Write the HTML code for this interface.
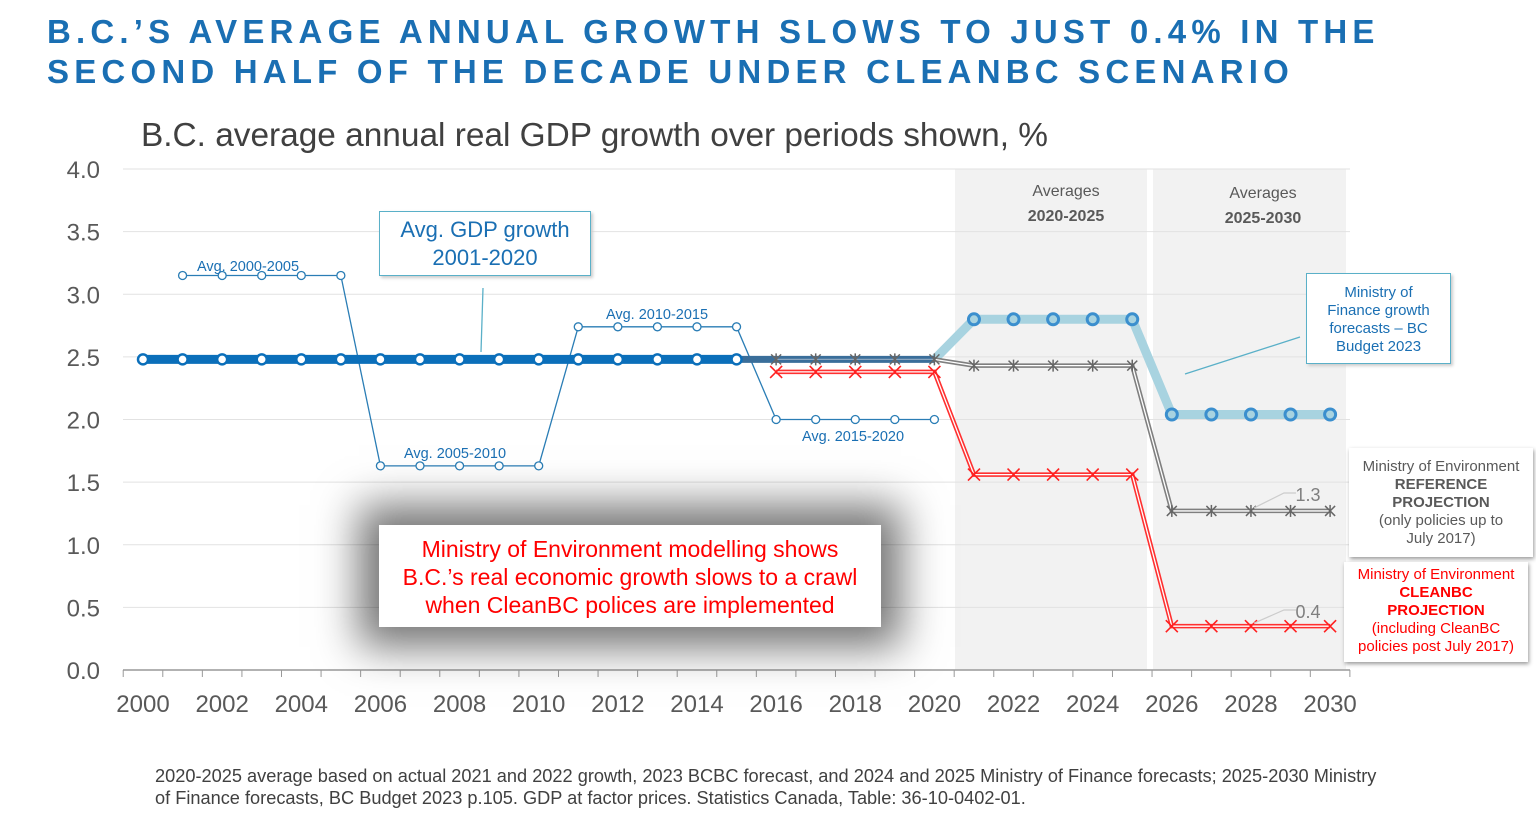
<!DOCTYPE html>
<html><head><meta charset="utf-8"><style>
body{margin:0;background:#fff;width:1536px;height:824px;overflow:hidden;font-family:"Liberation Sans",sans-serif;position:relative}
.t{position:absolute;white-space:nowrap}
.box{position:absolute;background:#fff;text-align:center;box-sizing:border-box}
</style></head><body>
<div class="t" style="left:47px;top:12px;font-size:33px;font-weight:bold;color:#1a6fb3;letter-spacing:5.2px;line-height:40px">B.C.’S AVERAGE ANNUAL GROWTH SLOWS TO JUST 0.4% IN THE<br>SECOND HALF OF THE DECADE UNDER CLEANBC SCENARIO</div>
<div class="t" style="left:141px;top:117px;font-size:33.4px;color:#404040">B.C. average annual real GDP growth over periods shown, %</div>
<svg id="c" width="1536" height="824" style="position:absolute;left:0;top:0"></svg>
<div class="box" style="left:379px;top:211px;width:212px;height:65px;border:1.5px solid #5ab0c8;color:#1a6fb3;font-size:22px;line-height:28px;padding-top:4px;box-shadow:2px 2px 3px #ccc">Avg. GDP growth<br>2001-2020</div>
<div class="box" style="left:1306px;top:273px;width:145px;height:91px;border:1.5px solid #5ab0c8;color:#1a6fb3;font-size:15px;line-height:18px;padding-top:10px;box-shadow:2px 2px 3px #ccc">Ministry of<br>Finance growth<br>forecasts – BC<br>Budget 2023</div>
<div class="box" style="left:1349px;top:448px;width:184px;height:109px;color:#595959;font-size:15px;line-height:18px;padding-top:10px;box-shadow:1px 2px 4px #999">Ministry of Environment<br><b>REFERENCE<br>PROJECTION</b><br>(only policies up to<br>July 2017)</div>
<div class="box" style="left:1344px;top:562px;width:184px;height:100px;color:#ff0000;font-size:15px;line-height:18px;padding-top:4px;box-shadow:1px 2px 4px #999">Ministry of Environment<br><b>CLEANBC<br>PROJECTION</b><br>(including CleanBC<br>policies post July 2017)</div>
<div class="box" style="left:379px;top:525px;width:502px;height:102px;color:#ff0000;font-size:23px;line-height:28px;padding-top:10px;box-shadow:0 0 40px 20px rgba(0,0,0,0.55)">Ministry of Environment modelling shows<br>B.C.’s real economic growth slows to a crawl<br>when CleanBC polices are implemented</div>
<div class="t" style="left:155px;top:765px;font-size:18.2px;color:#404040;line-height:22px">2020-2025 average based on actual 2021 and 2022 growth, 2023 BCBC forecast, and 2024 and 2025 Ministry of Finance forecasts; 2025-2030 Ministry<br>of Finance forecasts, BC Budget 2023 p.105. GDP at factor prices. Statistics Canada, Table: 36-10-0402-01.</div>
<script>
const mainYears=[2000,2001,2002,2003,2004,2005,2006,2007,2008,2009,2010,2011,2012,2013,2014,2015,2016,2017,2018,2019,2020];
const mainVals=[2.48,2.48,2.48,2.48,2.48,2.48,2.48,2.48,2.48,2.48,2.48,2.48,2.48,2.48,2.48,2.48,2.48,2.48,2.48,2.48,2.48];
const avgYears=[2001,2002,2003,2004,2005,2006,2007,2008,2009,2010,2011,2012,2013,2014,2015,2016,2017,2018,2019,2020];
const avgVals=[3.15,3.15,3.15,3.15,3.15,1.63,1.63,1.63,1.63,1.63,2.74,2.74,2.74,2.74,2.74,2.0,2.0,2.0,2.0,2.0];
const projYears=[2016,2017,2018,2019,2020,2021,2022,2023,2024,2025,2026,2027,2028,2029,2030];
const financeVals=[2.48,2.48,2.48,2.48,2.48,2.8,2.8,2.8,2.8,2.8,2.04,2.04,2.04,2.04,2.04];
const referenceVals=[2.48,2.48,2.48,2.48,2.48,2.43,2.43,2.43,2.43,2.43,1.27,1.27,1.27,1.27,1.27];
const cleanbcVals=[2.38,2.38,2.38,2.38,2.38,1.56,1.56,1.56,1.56,1.56,0.35,0.35,0.35,0.35,0.35];
const yTicks=[0,0.5,1,1.5,2,2.5,3,3.5,4];
const xLabels=[2000,2002,2004,2006,2008,2010,2012,2014,2016,2018,2020,2022,2024,2026,2028,2030];
const X=y=>143+(y-2000)*39.57, Y=v=>670-v*125.25;
const s=document.getElementById('c'),NS='http://www.w3.org/2000/svg';
function el(t,a,p){const e=document.createElementNS(NS,t);for(const k in a)e.setAttribute(k,a[k]);(p||s).appendChild(e);return e;}
let r=el('rect',{x:955,y:169,width:192,height:501,fill:'#f2f2f2'});

r=el('rect',{x:1153,y:169,width:193,height:501,fill:'#f2f2f2'});

yTicks.forEach(v=>{
  if(v>0){const g=el('line',{x1:123,x2:1350,y1:Y(v),y2:Y(v),stroke:'#e2e2e2','stroke-width':1});}
  const t=el('text',{x:100,y:Y(v)+9,'text-anchor':'end','font-size':24,fill:'#595959'});t.textContent=v.toFixed(1);
  
});
const ax=el('line',{x1:123,x2:1350,y1:670,y2:670,stroke:'#999','stroke-width':1.5});

for(let y=1999.5;y<=2030.5;y+=1){const tk=el('line',{x1:X(y),x2:X(y),y1:670,y2:677,stroke:'#999'});}
xLabels.forEach(y=>{const t=el('text',{x:X(y),y:712,'text-anchor':'middle','font-size':24,fill:'#595959'});t.textContent=y;});
[['Averages',1066,196,false],['2020-2025',1066,221,true],['Averages',1263,198,false],['2025-2030',1263,223,true]].forEach(a=>{const t=el('text',{x:a[1],y:a[2],'text-anchor':'middle','font-size':16,fill:'#595959','font-weight':a[3]?'bold':'normal'});t.textContent=a[0];});
function pts(xs,vs){return xs.map((x,i)=>X(x)+','+Y(vs[i])).join(' ');}
let p=el('polyline',{points:pts(avgYears,avgVals),fill:'none',stroke:'#2a7db5','stroke-width':1.3});

p=el('polyline',{points:pts(projYears.slice(4),financeVals.slice(4)),fill:'none',stroke:'#a8d3e0','stroke-width':9,'stroke-linejoin':'round'});

const rp=pts(projYears,referenceVals);
p=el('polyline',{points:rp,fill:'none',stroke:'#7f7f7f','stroke-width':4.5});
el('polyline',{points:rp,fill:'none',stroke:'#fff','stroke-width':1.3});
const cp=pts(projYears,cleanbcVals);
p=el('polyline',{points:cp,fill:'none',stroke:'#ff3030','stroke-width':4.5});
el('polyline',{points:cp,fill:'none',stroke:'#fff','stroke-width':1.3});
p=el('polyline',{points:pts(mainYears.slice(0,16),mainVals.slice(0,16)),fill:'none',stroke:'#0b6fba','stroke-width':9});

p=el('polyline',{points:pts(mainYears.slice(15),mainVals.slice(15)),fill:'none',stroke:'#3a6e9a','stroke-width':7});

el('polyline',{points:pts(mainYears.slice(16),mainVals.slice(16)),fill:'none',stroke:'#8ba6c0','stroke-width':1.2});
avgYears.forEach((y,i)=>{const c=el('circle',{cx:X(y),cy:Y(avgVals[i]),r:4,fill:'#fff',stroke:'#2a7db5','stroke-width':1.3});});
mainYears.slice(0,16).forEach((y,i)=>{const c=el('circle',{cx:X(y),cy:Y(mainVals[i]),r:5,fill:'#fff',stroke:'#0b6fba','stroke-width':2.5});});
projYears.forEach((y,i)=>{if(i>=5){const c=el('circle',{cx:X(y),cy:Y(financeVals[i]),r:5.5,fill:'#a8d3e0',stroke:'#3b8fce','stroke-width':3});}});
projYears.forEach((y,i)=>{const x=X(y),yy=Y(referenceVals[i]);const g=el('g',{stroke:'#666','stroke-width':1.5});
 el('line',{x1:x-5,y1:yy-5,x2:x+5,y2:yy+5},g);el('line',{x1:x+5,y1:yy-5,x2:x-5,y2:yy+5},g);el('line',{x1:x,y1:yy-6,x2:x,y2:yy+6},g);});
projYears.forEach((y,i)=>{const x=X(y),yy=Y(cleanbcVals[i]);const g=el('g',{stroke:'#ff2020','stroke-width':1.6});
 el('line',{x1:x-6,y1:yy-6,x2:x+6,y2:yy+6},g);el('line',{x1:x+6,y1:yy-6,x2:x-6,y2:yy+6},g);});
[['Avg. 2000-2005',248,271],['Avg. 2005-2010',455,458],['Avg. 2010-2015',657,319],['Avg. 2015-2020',853,441]].forEach(a=>{const t=el('text',{x:a[1],y:a[2],'text-anchor':'middle','font-size':14.5,fill:'#1a6fb3'});t.textContent=a[0];});
[['1.3',1308,501,Y(referenceVals[12])],['0.4',1308,618,Y(cleanbcVals[12])]].forEach(a=>{
 const x0=X(2028)+3;
 el('polyline',{points:`${x0},${a[3]-3} ${x0+30},${a[2]-8} ${x0+42},${a[2]-8}`,fill:'none',stroke:'#ccc','stroke-width':1.2});
 const t=el('text',{x:a[1],y:a[2],'text-anchor':'middle','font-size':18,fill:'#7f7f7f'});t.textContent=a[0];});
el('line',{x1:483,y1:288,x2:481,y2:352,stroke:'#5ab0c8','stroke-width':1.3});
el('line',{x1:1300,y1:337,x2:1185,y2:374,stroke:'#5ab0c8','stroke-width':1.3});
</script>
</body></html>
